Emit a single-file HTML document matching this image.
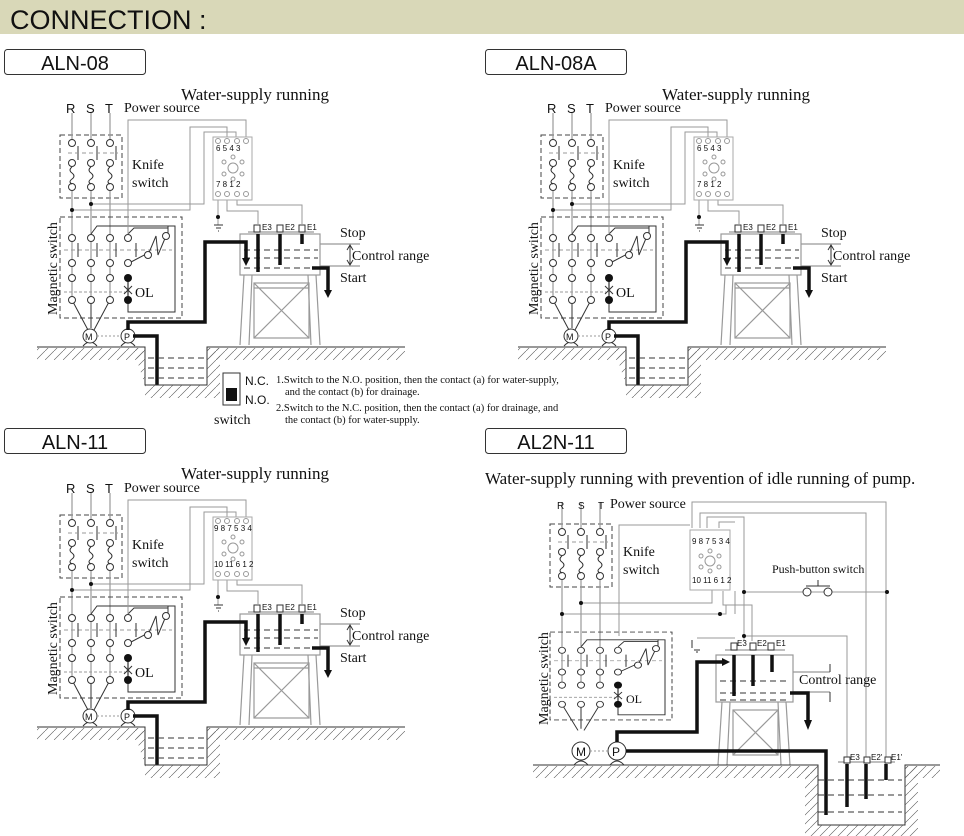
<!DOCTYPE html>
<html><head><meta charset="utf-8"><style>
html,body{margin:0;padding:0;background:#fff;}
svg{display:block;}
.ser{font-family:"Liberation Serif",serif;fill:#111;}
.san{font-family:"Liberation Sans",sans-serif;fill:#111;}
</style></head><body>
<svg width="964" height="836" viewBox="0 0 964 836" xmlns="http://www.w3.org/2000/svg">
<defs>
<pattern id="hatch" width="9" height="9" patternUnits="userSpaceOnUse">
<path d="M0 9 L9 0" stroke="#555" stroke-width="0.6"/>
</pattern>
<g id="knife">
<rect x="60" y="135" width="62" height="63" fill="none" stroke="#444" stroke-dasharray="5,3"/>
<g stroke="#999" stroke-width="1.2" fill="none">
<path d="M72 113V140M91 113V140M110 113V140"/>
<path d="M72 191V300M91 191V300M110 191V300"/>
</g>
<g fill="#fff" stroke="#333">
<circle cx="72" cy="143" r="3.5"/><circle cx="91" cy="143" r="3.5"/><circle cx="110" cy="143" r="3.5"/>
<circle cx="72" cy="163" r="3.5"/><circle cx="91" cy="163" r="3.5"/><circle cx="110" cy="163" r="3.5"/>
<circle cx="72" cy="187" r="3.5"/><circle cx="91" cy="187" r="3.5"/><circle cx="110" cy="187" r="3.5"/>
</g>
<g stroke="#333" fill="none">
<path d="M78 146V160M97 146V160M116 146V160"/>
<path d="M68 153H118" stroke="#999" stroke-dasharray="4,3"/>
<path d="M72 167q-4 3 0 6q4 3 0 6q-4 3 0 5M91 167q-4 3 0 6q4 3 0 6q-4 3 0 5M110 167q-4 3 0 6q4 3 0 6q-4 3 0 5"/>
</g>
</g>
<g id="mag">
<rect x="60" y="217" width="122" height="101" fill="none" stroke="#444" stroke-dasharray="5,3"/>
<g stroke="#333" fill="none">
<path d="M64 250H172" stroke="#999" stroke-dasharray="4,3"/>
<path d="M64 292H125" stroke="#999" stroke-dasharray="3,2"/>
<path d="M78 243V257M97 243V257M116 243V257M136 243V257"/>
<path d="M91 234L97 226H168V238"/>
<path d="M128 234L134 228H168"/>
<path d="M148 255L156 236L158 255L166 236"/>
<path d="M131 262L150 252"/>
<path d="M128 278V300" stroke-width="1.2"/>
<path d="M128 300V312H175V226H168"/>
<path d="M72 300L88 330M91 300V328M110 300L94 330"/>
</g>
<g fill="#fff" stroke="#333">
<circle cx="72" cy="238" r="3.5"/><circle cx="91" cy="238" r="3.5"/><circle cx="110" cy="238" r="3.5"/><circle cx="128" cy="238" r="3.5"/>
<circle cx="72" cy="263" r="3.5"/><circle cx="91" cy="263" r="3.5"/><circle cx="110" cy="263" r="3.5"/><circle cx="128" cy="263" r="3.5"/>
<circle cx="72" cy="278" r="3.5"/><circle cx="91" cy="278" r="3.5"/><circle cx="110" cy="278" r="3.5"/>
<circle cx="72" cy="300" r="3.5"/><circle cx="91" cy="300" r="3.5"/><circle cx="110" cy="300" r="3.5"/>
<circle cx="148" cy="255" r="3.5"/><circle cx="166" cy="236" r="3.5"/>
</g>
<circle cx="128" cy="278" r="4" fill="#111"/><circle cx="128" cy="300" r="4" fill="#111"/>
<path d="M124 286L132 294M132 286L124 294M128 285V295" stroke="#333"/>
</g>
<g id="pumps">
<path d="M83 346q7-8 14 0M121 346q7-8 14 0" fill="none" stroke="#333"/>
<circle cx="90" cy="336" r="7" fill="#fff" stroke="#333"/>
<circle cx="128" cy="336" r="7" fill="#fff" stroke="#333"/>
<path d="M97 336H121" stroke="#999" stroke-dasharray="2,2"/>
</g>
<g id="tank">
<g stroke="#999" fill="none" stroke-width="1.2">
<rect x="240" y="234" width="80" height="41"/>
<path d="M248 232H314"/>
<path d="M320 244H360M320 266H360"/>
<path d="M244 275L240 345M252 275L249 345M316 275L320 345M308 275L311 345"/>
<rect x="254" y="283" width="55" height="55"/>
<path d="M254 283L309 338M309 283L254 338M254 288H309"/>
</g>
<g stroke="#333" fill="none" stroke-dasharray="6,4">
<path d="M244 250H318M244 258H318M244 268H318"/>
</g>
<g fill="#fff" stroke="#333"><rect x="254" y="225" width="6" height="7"/><rect x="277" y="225" width="6" height="7"/><rect x="299" y="225" width="6" height="7"/></g>
<g stroke="#111" stroke-width="3.5" fill="none">
<path d="M258 234V272M280 234V265M302 234V244"/>
<path d="M312 268H328V290"/>
</g>
<path d="M324 290L328 298L332 290Z" fill="#111"/>
<path d="M350 246V264" stroke="#333"/>
<path d="M347 250L350 245L353 250M347 260L350 265L353 260" fill="none" stroke="#333"/>
</g>
</defs>

<rect x="0" y="0" width="964" height="34" fill="#d9d8b8"/>
<text x="10" y="29" class="san" font-size="27">CONNECTION :</text>

<g fill="#fff" stroke="#333">
<rect x="4.5" y="49.5" width="141" height="25" rx="3"/>
<rect x="485.5" y="49.5" width="141" height="25" rx="3"/>
<rect x="4.5" y="428.5" width="141" height="25" rx="3"/>
<rect x="485.5" y="428.5" width="141" height="25" rx="3"/>
</g>
<g class="san" font-size="20" text-anchor="middle">
<text x="75" y="70">ALN-08</text><text x="556" y="70">ALN-08A</text>
<text x="75" y="449">ALN-11</text><text x="556" y="449">AL2N-11</text>
</g>

<g id="p1">
<use href="#knife"/><use href="#mag"/><use href="#pumps"/><use href="#tank"/>
<g stroke="#999" fill="none">
<path d="M72 210H190V127H227V137"/>
<path d="M91 204H204V132H236V137"/>
<path d="M128 234V120H246V137"/>
<path d="M218 200V225M227 200V211H258V225M237 200V205H302V225"/>
<path d="M214 225H223M216 228H221M218 231H219" stroke="#333"/>
</g>
<circle cx="72" cy="210" r="2" fill="#111"/><circle cx="91" cy="204" r="2" fill="#111"/><circle cx="218" cy="217" r="2" fill="#111"/>
<rect x="213" y="137" width="39" height="63" fill="#fff" stroke="#aaa"/>
<g fill="none" stroke="#999"><circle cx="233" cy="168" r="5"/><circle cx="233" cy="157" r="2"/><circle cx="224" cy="162" r="2"/><circle cx="242" cy="162" r="2"/><circle cx="224" cy="174" r="2"/><circle cx="242" cy="174" r="2"/><circle cx="233" cy="179" r="2"/>
<circle cx="218" cy="141" r="2.5"/><circle cx="227" cy="141" r="2.5"/><circle cx="237" cy="141" r="2.5"/><circle cx="246" cy="141" r="2.5"/>
<circle cx="218" cy="194" r="2.5"/><circle cx="227" cy="194" r="2.5"/><circle cx="237" cy="194" r="2.5"/><circle cx="246" cy="194" r="2.5"/></g>
<g stroke="#111" stroke-width="3.5" fill="none">
<path d="M128 330V322H205V242H246V260"/>
<path d="M133 336H157V385"/>
</g>
<path d="M242 258L246 266L250 258Z" fill="#111"/>
<path d="M37 347H145V385H207V347H405" stroke="#333" fill="none"/>
<path d="M37 348H145V360H37Z" fill="url(#hatch)"/>
<path d="M207 348H405V360H207Z" fill="url(#hatch)"/>
<path d="M133 348H145V398H220V348H207V385H145Z" fill="url(#hatch)"/>
<g stroke="#333" stroke-dasharray="6,4"><path d="M148 358H204M148 368H204M148 378H204"/></g>
</g>
<use href="#p1" x="481" y="0"/>
<use href="#p1" x="0" y="380"/>

<!-- panel 4 -->
<g>
<use href="#knife" transform="translate(490,389)"/>
<use href="#mag" transform="translate(490,443) scale(1,0.871)"/>
<g stroke="#999" fill="none">
<path d="M562 614H726V605M581 603H712V590M619 636V525H690"/>
<path d="M692 528V502H886V764M700 528V513H866V764M707 528V517H744V641M719 528V522H735"/>
<path d="M735 591V614M723 591V605H752V641M744 592H888M886 592V764M742 636H847V764M697 638H735"/>
<path d="M692 640V648M694 650H700M696 652H698" stroke="#333"/>
</g>
<g fill="#111"><circle cx="562" cy="614" r="2"/><circle cx="581" cy="603" r="2"/><circle cx="720" cy="614" r="2"/><circle cx="744" cy="592" r="2"/><circle cx="887" cy="592" r="2"/><circle cx="744" cy="636" r="2"/></g>
<rect x="690" y="530" width="40" height="60" fill="#fff" stroke="#aaa"/>
<g fill="none" stroke="#999"><circle cx="710" cy="561" r="5"/><circle cx="710" cy="551" r="2"/><circle cx="701" cy="556" r="2"/><circle cx="719" cy="556" r="2"/><circle cx="701" cy="567" r="2"/><circle cx="719" cy="567" r="2"/><circle cx="710" cy="571" r="2"/></g>
<g fill="#fff" stroke="#333"><circle cx="807" cy="592" r="4"/><circle cx="828" cy="592" r="4"/></g>
<path d="M806 586H830M818 580V586" stroke="#333"/>
<g fill="#fff" stroke="#333">
<circle cx="581" cy="751" r="9"/><circle cx="617" cy="751" r="9"/>
</g>
<path d="M590 751H608" stroke="#999" stroke-dasharray="2,2"/>
<path d="M574 765q7-8 14 0M610 765q7-8 14 0" fill="none" stroke="#333"/>
<text x="576" y="756" class="san" font-size="12">M</text><text x="612" y="756" class="san" font-size="12">P</text>
<g stroke="#999" fill="none" stroke-width="1.2">
<rect x="716" y="655" width="77" height="47"/>
<path d="M725 650H785"/>
<path d="M793 672H830M793 692H830M722 702L718 765M730 702L727 765M786 702L790 765M778 702L781 765"/>
<rect x="733" y="710" width="45" height="45"/>
<path d="M733 710L778 755M778 710L733 755"/>
<path d="M838 762H895"/>
</g>
<g fill="#fff" stroke="#333"><rect x="731" y="643" width="6" height="7"/><rect x="750" y="643" width="6" height="7"/><rect x="768" y="643" width="6" height="7"/>
<rect x="844" y="757" width="6" height="6"/><rect x="864" y="757" width="6" height="6"/><rect x="885" y="757" width="6" height="6"/></g>
<g stroke="#333" stroke-dasharray="6,4"><path d="M720 681H790M720 693H790M720 700H790M818 780H902M818 795H902M818 812H902"/></g>
<g stroke="#111" stroke-width="3.5" fill="none">
<path d="M734 655V696M753 655V686M772 655V672"/>
<path d="M790 693H808V722"/>
<path d="M617 742V732H697V662H722"/>
<path d="M626 751H826V815"/>
<path d="M847 764V807M866 764V799M886 764V780"/>
</g>
<path d="M722 658L730 662L722 666Z M804 720L808 730L812 720Z" fill="#111"/>
<path d="M830 664V672M830 692V702" stroke="#333"/>
<path d="M533 765H818V825H905V765H940" stroke="#333" fill="none"/>
<path d="M533 766H818V778H533Z" fill="url(#hatch)"/>
<path d="M805 766H818V825H905V766H918V836H805Z" fill="url(#hatch)"/>
<path d="M905 766H940V778H905Z" fill="url(#hatch)"/>
</g>

<g class="san" font-size="13" fill="#666">
<text x="66" y="113">R</text><text x="86" y="113">S</text><text x="105" y="113">T</text>
<text x="547" y="113">R</text><text x="567" y="113">S</text><text x="586" y="113">T</text>
<text x="66" y="493">R</text><text x="86" y="493">S</text><text x="105" y="493">T</text>
<text x="557" y="509" font-size="10">R</text><text x="578" y="509" font-size="10">S</text><text x="598" y="509" font-size="10">T</text>
</g>
<g class="ser">
<text x="255" y="100" font-size="17" text-anchor="middle">Water-supply running</text>
<text x="736" y="100" font-size="17" text-anchor="middle">Water-supply running</text>
<text x="255" y="479" font-size="17" text-anchor="middle">Water-supply running</text>
<text x="485" y="484" font-size="17">Water-supply running with prevention of idle running of pump.</text>
<g font-size="14">
<text x="124" y="112">Power source</text><text x="605" y="112">Power source</text><text x="124" y="492">Power source</text><text x="610" y="508">Power source</text>
<text x="132" y="169">Knife</text><text x="132" y="187">switch</text>
<text x="613" y="169">Knife</text><text x="613" y="187">switch</text>
<text x="132" y="549">Knife</text><text x="132" y="567">switch</text>
<text x="623" y="556">Knife</text><text x="623" y="574">switch</text>
<text x="340" y="237">Stop</text><text x="352" y="260">Control range</text><text x="340" y="282">Start</text>
<text x="821" y="237">Stop</text><text x="833" y="260">Control range</text><text x="821" y="282">Start</text>
<text x="340" y="617">Stop</text><text x="352" y="640">Control range</text><text x="340" y="662">Start</text>
<text x="799" y="684">Control range</text>
<text x="135" y="297">OL</text><text x="616" y="297">OL</text><text x="135" y="677">OL</text><text x="626" y="703" font-size="12">OL</text>
<text x="214" y="424">switch</text>
</g>
<text transform="translate(57,315) rotate(-90)" font-size="14">Magnetic switch</text>
<text transform="translate(538,315) rotate(-90)" font-size="14">Magnetic switch</text>
<text transform="translate(57,695) rotate(-90)" font-size="14">Magnetic switch</text>
<text transform="translate(548,725) rotate(-90)" font-size="14">Magnetic switch</text>
<text x="772" y="573" font-size="12">Push-button switch</text>
<g font-size="10.5">
<text x="276" y="383">1.Switch to the N.O. position, then the contact (a) for water-supply,</text>
<text x="285" y="395">and the contact (b) for drainage.</text>
<text x="276" y="411">2.Switch to the N.C. position, then the contact (a) for drainage, and</text>
<text x="285" y="423">the contact (b) for water-supply.</text>
</g>
</g>
<rect x="223" y="373" width="17" height="32" fill="#fff" stroke="#333"/>
<rect x="226" y="388" width="11" height="13" fill="#111"/>
<g class="san" font-size="12"><text x="245" y="385">N.C.</text><text x="245" y="404">N.O.</text></g>
<g class="san" font-size="8">
<text x="216" y="151">6 5 4 3</text><text x="216" y="187">7 8 1 2</text>
<text x="697" y="151">6 5 4 3</text><text x="697" y="187">7 8 1 2</text>
<text x="214" y="531">9 8 7 5 3 4</text><text x="214" y="567">10 11 6 1 2</text>
<text x="692" y="544">9 8 7 5 3 4</text><text x="692" y="583">10 11 6 1 2</text>
<text x="262" y="230">E3</text><text x="285" y="230">E2</text><text x="307" y="230">E1</text>
<text x="743" y="230">E3</text><text x="766" y="230">E2</text><text x="788" y="230">E1</text>
<text x="262" y="610">E3</text><text x="285" y="610">E2</text><text x="307" y="610">E1</text>
<text x="737" y="646">E3</text><text x="757" y="646">E2</text><text x="776" y="646">E1</text>
<text x="850" y="760">E3</text><text x="871" y="760">E2'</text><text x="891" y="760">E1'</text>
</g>
<text x="85" y="340" class="san" font-size="9">M</text><text x="124" y="340" class="san" font-size="9">P</text>
<text x="566" y="340" class="san" font-size="9">M</text><text x="605" y="340" class="san" font-size="9">P</text>
<text x="85" y="720" class="san" font-size="9">M</text><text x="124" y="720" class="san" font-size="9">P</text>
</svg>
</body></html>
